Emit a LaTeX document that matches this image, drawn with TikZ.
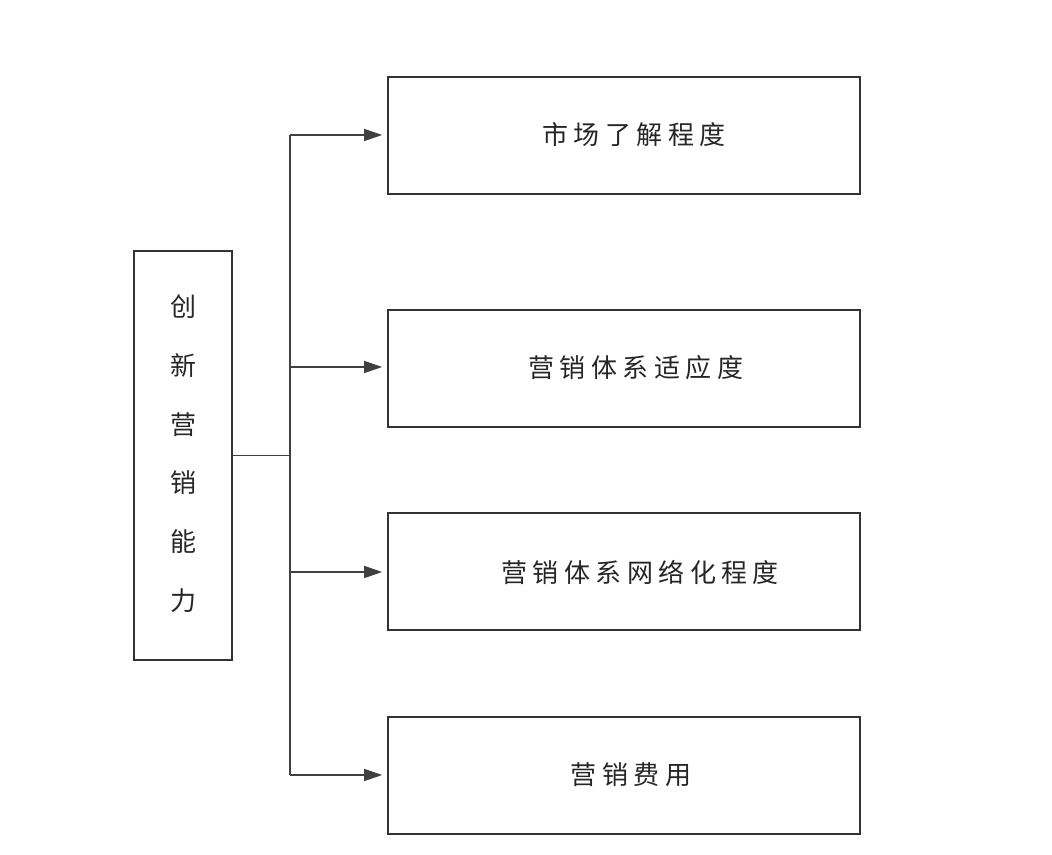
\documentclass[tikz,border=0pt]{standalone}
\usepackage{fontspec}
\newfontfamily\cjk{Noto Sans CJK SC}
\usetikzlibrary{arrows.meta}
\newcommand\chsp{\hspace{5.5pt}}
\begin{document}
\begin{tikzpicture}[x=1pt,y=1pt,
  box/.style={draw=black!80,line width=1.6pt,inner sep=0pt},
  lbl/.style={font=\cjk\fontsize{26}{30}\selectfont,text=black!85},
  conn/.style={draw=black!75,line width=1.4pt},
  arr/.style={conn,-{Triangle[length=18pt,width=12pt]},shorten >=5pt}]
\useasboundingbox (0,0) rectangle (1052,854);
% left box
\node[box,minimum width=98pt,minimum height=409pt] (L) at (183,398.5) {};
\node[lbl,align=center] (Lt) at (183,397) {%
  \begin{tabular}{@{}c@{}}创\\[28pt]新\\[28pt]营\\[28pt]销\\[28pt]能\\[28pt]力\end{tabular}};
% right boxes
\node[box,minimum width=472pt,minimum height=117pt] (B1) at (624,718.5) {};
\node[box,minimum width=472pt,minimum height=117pt] (B2) at (624,485.5) {};
\node[box,minimum width=472pt,minimum height=117pt] (B3) at (624,282.5) {};
\node[box,minimum width=472pt,minimum height=117pt] (B4) at (624,78.5) {};
\node[lbl] (T1) at (634,719) {市\chsp 场\chsp 了\chsp 解\chsp 程\chsp 度};
\node[lbl] (T2) at (636,486) {营\chsp 销\chsp 体\chsp 系\chsp 适\chsp 应\chsp 度};
\node[lbl] (T3) at (640,282) {营\chsp 销\chsp 体\chsp 系\chsp 网\chsp 络\chsp 化\chsp 程\chsp 度};
\node[lbl] (T4) at (631,79) {营\chsp 销\chsp 费\chsp 用};
% connectors
\coordinate (J) at (290,398.5);
\coordinate (J1) at (290,719);
\coordinate (J2) at (290,487);
\coordinate (J3) at (290,282);
\coordinate (J4) at (290,79);
\draw[conn] (L.east |- J) -- (J);
\draw[conn] (J1) -- (J4);
\draw[arr] (J1) -- (B1.west |- J1);
\draw[arr] (J2) -- (B2.west |- J2);
\draw[arr] (J3) -- (B3.west |- J3);
\draw[arr] (J4) -- (B4.west |- J4);
\end{tikzpicture}
\end{document}
